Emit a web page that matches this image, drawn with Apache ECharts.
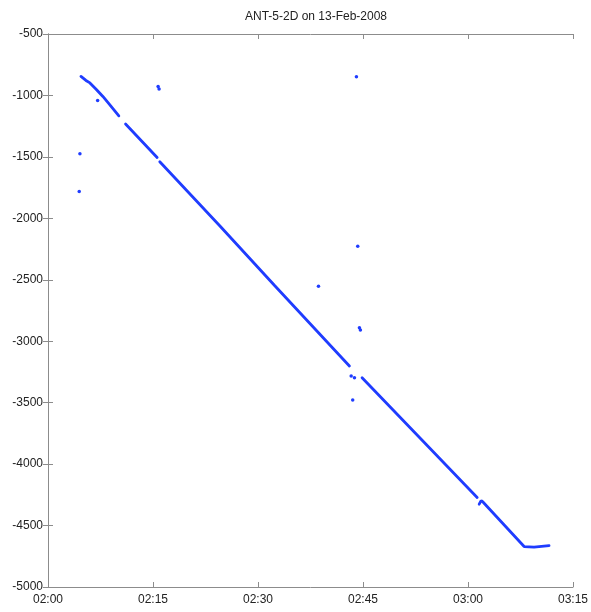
<!DOCTYPE html>
<html>
<head>
<meta charset="utf-8">
<title>ANT-5-2D on 13-Feb-2008</title>
<script src="https://cdn.jsdelivr.net/npm/echarts@6/dist/echarts.min.js"></script>
<style>
  html, body { margin: 0; padding: 0; background: #fff; }
  #chart { width: 591px; height: 612px; }
</style>
</head>
<body>
<div id="chart"></div>
<script>
// Track of ANT-5-2D, minutes after 02:00 vs. value.
// Continuous track, split where the record has gaps (null = break).
const trackMinutes = [
  4.71, 5.42, 5.99, 6.84, 7.84, 8.84, 10.12, null,
  11.08, 15.59, null,
  15.97, 24.53, 32.37, 43.06, null,
  44.87, 53.04, 61.31, null,
  61.60, 61.88, 62.17, 68.02, 69.44, 71.58
];
const trackValues = [
  -845, -878, -898, -947, -1008, -1077, -1166, null,
  -1233, -1505, null,
  -1540, -2060, -2547, -3201, null,
  -3297, -3782, -4272, null,
  -4326, -4297, -4310, -4671, -4675, -4663
];

// Isolated readings away from the track
const strayMinutes = [4.56, 4.46, 7.09, 15.73, 15.87, 44.06, 44.25, 38.64, 44.49, 44.63, 43.31, 43.78, 43.53];
const strayValues  = [-1475, -1781, -1042, -928, -947, -847, -2228, -2553, -2891, -2908, -3284, -3297, -3479];

const xTickLabels = ['02:00', '02:15', '02:30', '02:45', '03:00', '03:15'];
const titleText = 'ANT-5-2D on 13-Feb-2008';

const blue = '#1f3cff';
const axisGray = '#8c8c8c';
const font = 'Liberation Sans, Arial, sans-serif';

const trackData = trackMinutes.map((m, i) => (m === null ? [null, null] : [m, trackValues[i]]));
const strayData = strayMinutes.map((m, i) => [m, strayValues[i]]);

const chart = echarts.init(document.getElementById('chart'), null, { renderer: 'canvas' });

const boxAxis = {
  axisLine: { show: true, lineStyle: { color: axisGray, width: 1 } },
  axisTick: { show: true, inside: true, length: 5, lineStyle: { color: axisGray } },
  splitLine: { show: false }
};

chart.setOption({
  animation: false,
  backgroundColor: '#ffffff',
  title: {
    text: titleText,
    left: 311,
    textAlign: 'center',
    top: 6,
    textStyle: { fontFamily: font, fontSize: 12, fontWeight: 'normal', color: '#222' }
  },
  grid: { left: 48, right: 17, top: 34, bottom: 25, containLabel: false },
  xAxis: [
    Object.assign({
      type: 'value', min: 0, max: 75, interval: 15, position: 'bottom',
      axisLabel: {
        fontFamily: font, fontSize: 12, color: '#222', margin: 7,
        formatter: v => xTickLabels[Math.round(v / 15)]
      }
    }, boxAxis),
    Object.assign({
      type: 'value', min: 0, max: 75, interval: 15, position: 'top',
      axisLabel: { show: false }
    }, boxAxis)
  ],
  yAxis: [
    Object.assign({
      type: 'value', min: -5000, max: -500, interval: 500, position: 'left',
      axisLabel: { fontFamily: font, fontSize: 12, color: '#222', margin: 5, formatter: v => String(v) }
    }, boxAxis),
    Object.assign({
      type: 'value', min: -5000, max: -500, interval: 500, position: 'right',
      axisLabel: { show: false }
    }, boxAxis)
  ],
  series: [
    {
      type: 'line',
      data: trackData,
      showSymbol: false,
      connectNulls: false,
      lineStyle: { color: blue, width: 2.8, cap: 'round' },
      z: 3
    },
    {
      type: 'scatter',
      data: strayData,
      symbol: 'circle',
      symbolSize: 3.5,
      itemStyle: { color: blue, opacity: 1 },
      z: 4
    }
  ]
});
</script>
</body>
</html>
